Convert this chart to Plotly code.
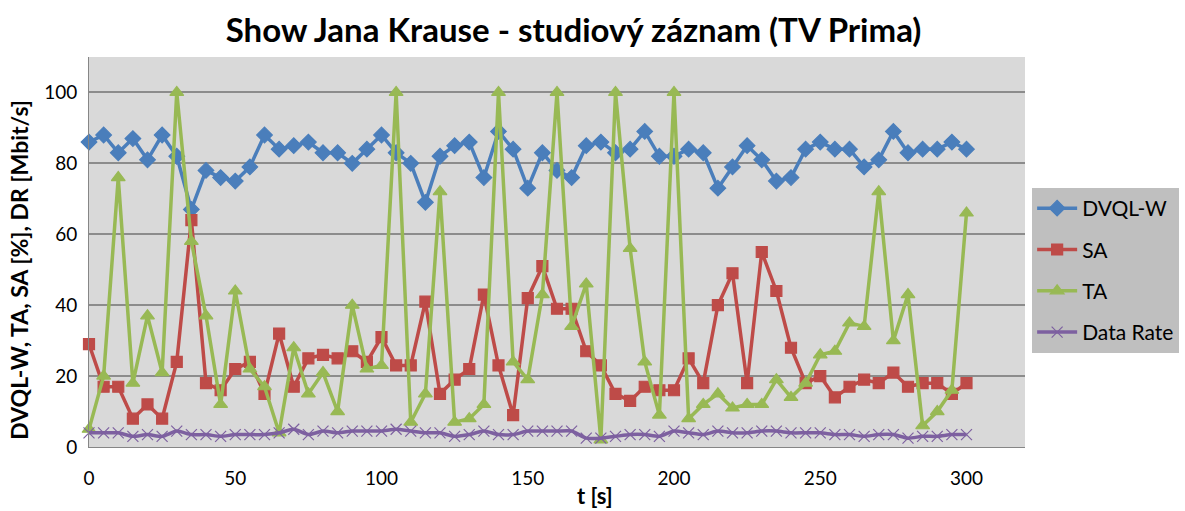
import plotly.graph_objects as go

# Time axis: one sample every 5 s from 0 to 300 s
t_s = list(range(0, 305, 5))

dvql_w = [86, 88, 83, 87, 81, 88, 82, 67, 78, 76, 75, 79, 88,
          84, 85, 86, 83, 83, 80, 84, 88, 83, 80, 69, 82,
          85, 86, 76, 89, 84, 73, 83, 78, 76, 85, 86, 83, 84,
          89, 82, 82, 84, 83, 73, 79, 85, 81, 75, 76, 84, 86,
          84, 84, 79, 81, 89, 83, 84, 84, 86, 84]

sa = [29, 17, 17, 8, 12, 8, 24, 64, 18, 16, 22, 24, 15,
      32, 17, 25, 26, 25, 27, 24, 31, 23, 23, 41, 15,
      19, 22, 43, 23, 9, 42, 51, 39, 39, 27, 23, 15, 13,
      17, 16, 16, 25, 18, 40, 49, 18, 55, 44, 28, 18, 20,
      14, 17, 19, 18, 21, 17, 18, 18, 15, 18]

ta = [5, 20, 76, 18, 37, 21, 100, 58, 37, 12, 44, 22, 17,
      4, 28, 15, 21, 10, 40, 22, 23, 100, 7, 15, 72,
      7, 8, 12, 100, 24, 19, 43, 100, 34, 46, 2, 100, 56,
      24, 9, 100, 8, 12, 15, 11, 12, 12, 19, 14, 18, 26,
      27, 35, 34, 72, 30, 43, 6, 10, 16, 66]

data_rate = [4, 4, 4, 3, 3.5, 3, 4.5, 3.5, 3.5, 3, 3.5, 3.5, 3.5,
             4, 5, 3.5, 4.5, 4, 4.5, 4.5, 4.5, 5, 4.5, 4, 4,
             3, 3.5, 4.5, 3.5, 3.5, 4.5, 4.5, 4.5, 4.5, 2.5, 2.5, 3, 3.5,
             3.5, 3, 4.5, 4, 3.5, 4.5, 4, 4, 4.5, 4.5, 4, 4, 4,
             3.5, 3.5, 3, 3.5, 3.5, 2.5, 3, 3, 3.5, 3.5]

x_ticks = [0, 50, 100, 150, 200, 250, 300]
y_ticks = [0, 20, 40, 60, 80, 100]

FONT = "Lato"

series = [
    ("DVQL-W", dvql_w, "#4A7EBB", "diamond", 12, "linear"),
    ("SA", sa, "#BE4B48", "square", 11, "linear"),
    ("TA", ta, "#98B954", "triangle-up", 12, "linear"),
    ("Data Rate", data_rate, "#7D60A0", "x-thin-open", 11, "spline"),
]

fig = go.Figure()
for i, (name, vals, color, symbol, msize, shape) in enumerate(series):
    fig.add_trace(go.Scatter(
        x=t_s, y=vals, name=name, mode="lines+markers",
        line=dict(color=color, width=3.5, shape=shape, smoothing=0.6),
        marker=dict(symbol=symbol, size=msize, color=color,
                    line=dict(color=color, width=1.2)),
        cliponaxis=False, legendgroup=f"g{i}",
    ))

fig.update_layout(
    width=1185, height=511,
    paper_bgcolor="white", plot_bgcolor="#D9D9D9",
    margin=dict(l=89, r=160, t=57, b=64),
    font=dict(family=FONT, size=19, color="black"),
    title=dict(text="<b>Show Jana Krause - studiový záznam (TV Prima)</b>",
               x=0.484, xanchor="center", y=0.94, yanchor="middle",
               font=dict(size=33, family=FONT)),
    showlegend=True,
    legend=dict(xref="container", yref="container",
                x=0.871, xanchor="left", y=0.632, yanchor="top",
                bgcolor="#BFBFBF", font=dict(size=21, family=FONT),
                tracegroupgap=11, itemwidth=40),
    annotations=[
        dict(text="<b>DVQL-W, TA, SA [%], DR [Mbit/s]</b>", textangle=-90,
             xref="paper", yref="paper", x=-0.075, y=0.454,
             xanchor="center", yanchor="middle", showarrow=False,
             font=dict(size=23, family=FONT)),
        dict(text="<b>t [s]</b>",
             xref="paper", yref="paper", x=0.5406, y=-0.163,
             xanchor="center", yanchor="bottom", showarrow=False,
             font=dict(size=22, family=FONT)),
    ],
)

fig.update_xaxes(
    range=[0, 320], tickvals=x_ticks, showgrid=False, zeroline=False,
    showline=True, linecolor="#868686", linewidth=1, automargin=False,
    ticks="outside", ticklen=14, tickcolor="rgba(0,0,0,0)",
)
fig.update_yaxes(
    range=[0, 110], tickvals=y_ticks, showgrid=True, gridcolor="#8C8C8C",
    gridwidth=1.5, zeroline=False, automargin=False,
    showline=True, linecolor="#868686", linewidth=1,
    ticks="outside", ticklen=7, tickcolor="rgba(0,0,0,0)",
)

fig.write_html("out.html")
